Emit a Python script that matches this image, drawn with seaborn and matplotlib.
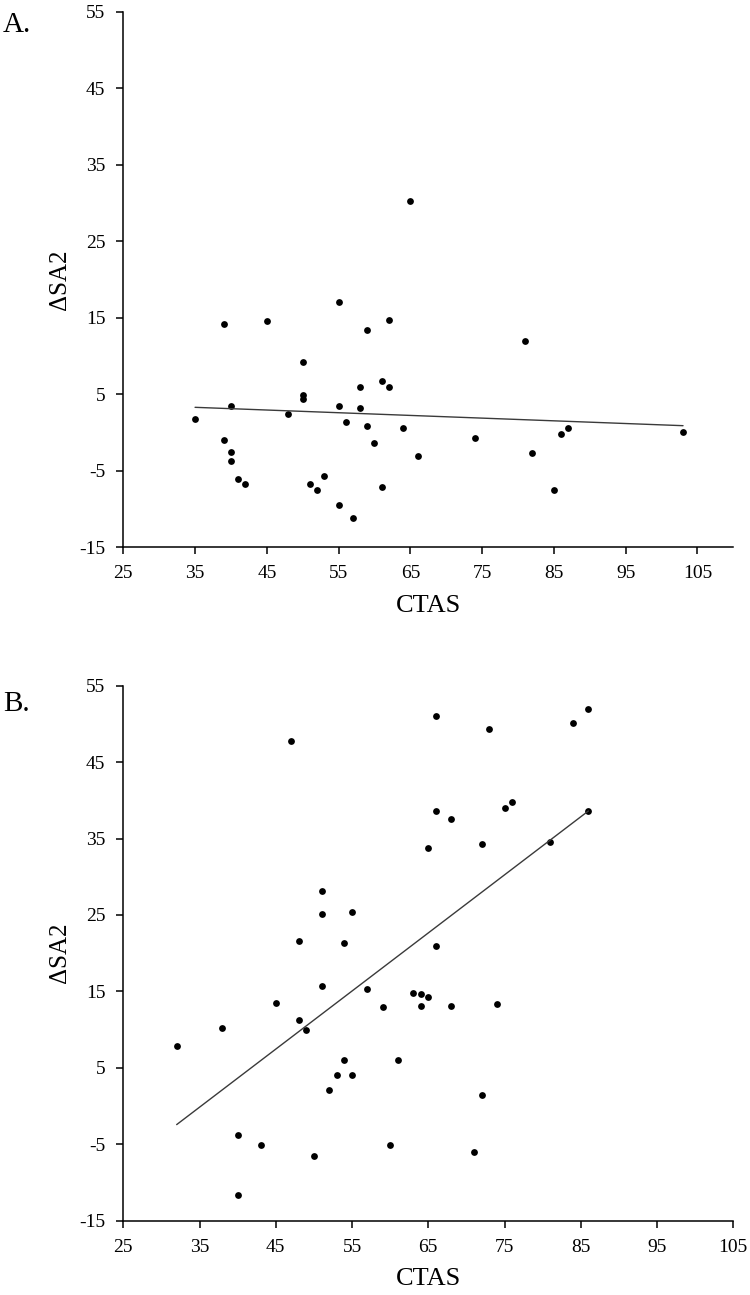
import matplotlib
matplotlib.use("Agg")
import matplotlib.pyplot as plt
import seaborn as sns
import pandas as pd
import numpy as np

# Painel A
ctas_a = [35, 39, 39, 40, 40, 40, 41, 42, 45, 48, 50, 50, 50, 51, 52, 53,
          55, 55, 55, 56, 57, 58, 58, 59, 59, 60, 61, 61, 62, 62, 64, 65,
          66, 74, 81, 82, 85, 86, 87, 103]
dsa2_a = [1.75, 14.1, -1.0, 3.5, -2.6, -3.75, -6.1, -6.7, 14.5, 2.35, 9.2, 4.9,
          4.3, -6.7, -7.5, -5.7, 17.0, 3.5, -9.45, 1.35, -11.25, 5.9, 3.15, 13.35,
          0.8, -1.4, 6.7, -7.1, 14.7, 5.9, 0.55, 30.2, -3.15, -0.8, 12.0, -2.75,
          -7.5, -0.2, 0.55, 0.0]
# reta de tendência (intercepto, inclinação)
reta_a = (4.5, -0.0353)

# Painel B
ctas_b = [47, 66, 73, 84, 86, 66, 68, 75, 76, 86, 65, 72, 81, 51, 51, 55,
          48, 54, 66, 32, 38, 45, 48, 49, 51, 57, 59, 63, 64, 64, 65, 68,
          74, 54, 61, 53, 55, 52, 72, 40, 43, 60, 50, 71, 40]
dsa2_b = [47.8, 51.1, 49.35, 50.1, 51.9, 38.6, 37.6, 39.0, 39.8, 38.6, 33.7, 34.3,
          34.5, 28.2, 25.1, 25.4, 21.6, 21.35, 21.0, 7.8, 10.15, 13.45, 11.3, 9.9,
          15.65, 15.25, 12.9, 14.85, 14.65, 13.1, 14.25, 13.1, 13.3, 6.0, 6.0, 4.0,
          4.0, 2.05, 1.45, -3.75, -5.1, -5.1, -6.5, -6.05, -11.6]
reta_b = (-26.75, 0.760)

yticks = [-15, -5, 5, 15, 25, 35, 45, 55]
xticks = [25, 35, 45, 55, 65, 75, 85, 95, 105]

sns.set_style("ticks")
plt.rcParams['font.family'] = ['Liberation Serif', 'DejaVu Serif']
plt.rcParams['axes.unicode_minus'] = False
plt.rcParams['axes.linewidth'] = 1.1
plt.rcParams['xtick.major.width'] = 1.1
plt.rcParams['ytick.major.width'] = 1.1
plt.rcParams['text.color'] = 'black'
plt.rcParams['axes.labelcolor'] = 'black'
plt.rcParams['xtick.color'] = 'black'
plt.rcParams['ytick.color'] = 'black'

fig = plt.figure(figsize=(7.5, 12.95), dpi=100)
ax_a = fig.add_axes([0.1644, 0.5776, 0.8133, 0.4134])
ax_b = fig.add_axes([0.1644, 0.0574, 0.8133, 0.4131])

paineis = [
    (ax_a, ctas_a, dsa2_a, reta_a, 'A.', (25, 110), 0.991),
    (ax_b, ctas_b, dsa2_b, reta_b, 'B.', (25, 105), 0.4665),
]

for ax, x, y, reta, letra, xlim, ytxt in paineis:
    dados = pd.DataFrame({'CTAS': x, 'dSA2': y})
    sns.scatterplot(data=dados, x='CTAS', y='dSA2', ax=ax, s=24,
                    color='black', linewidth=0)
    xr = np.array([min(x), max(x)])
    tendencia = pd.DataFrame({'CTAS': xr, 'dSA2': reta[0] + reta[1] * xr})
    sns.lineplot(data=tendencia, x='CTAS', y='dSA2', ax=ax,
                 color='#3a3a3a', linewidth=1.0)
    ax.set_xlim(*xlim)
    ax.set_ylim(-15, 55)
    ax.set_xticks(xticks)
    ax.set_yticks(yticks)
    ax.tick_params(axis='both', labelsize=14, length=5, pad=8)
    ax.set_xlabel('CTAS', fontsize=19, labelpad=9)
    ax.set_ylabel('ΔSA2', fontsize=18, labelpad=6)
    sns.despine(ax=ax)
    for s in ['left', 'bottom']:
        ax.spines[s].set_color('black')
    fig.text(0.004, ytxt, letra, fontsize=21, va='top', ha='left')

fig.savefig('out.png', dpi=100, facecolor='white')
